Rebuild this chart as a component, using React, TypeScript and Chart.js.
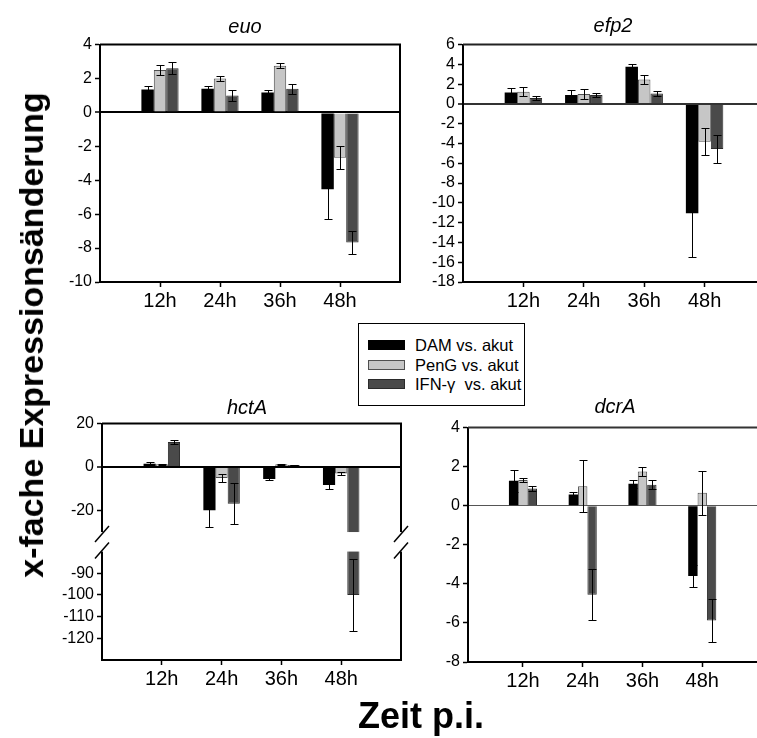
import React, { useEffect, useRef } from 'react';
import { Chart, registerables } from 'chart.js';
Chart.register(...registerables);

const FONT = "'Liberation Sans', Arial, Helvetica, sans-serif";

// ---------- data ----------
const timeLabels = ['12h', '24h', '36h', '48h'];
const seriesNames = ['DAM vs. akut', 'PenG vs. akut', 'IFN-\u03b3  vs. akut'];
const seriesFill = ['#000000', '#c6c6c6', '#4a4a4a'];
const seriesBorder = ['#000000', '#4f4f4f', '#2a2a2a'];

// euo
const euoDAM = [1.35, 1.4, 1.18, -4.53];
const euoDAMErr = [0.2, 0.15, 0.12, 1.77];
const euoPenG = [2.5, 2.0, 2.75, -2.67];
const euoPenGErr = [0.3, 0.12, 0.15, 0.68];
const euoIFN = [2.6, 1.0, 1.4, -7.67];
const euoIFNErr = [0.35, 0.33, 0.3, 0.68];
const euoRange = [-10, 4];
const euoStep = 2;

// efp2
const efp2DAM = [1.15, 0.9, 3.75, -11.05];
const efp2DAMErr = [0.5, 0.55, 0.25, 4.45];
const efp2PenG = [1.23, 1.0, 2.47, -3.82];
const efp2PenGErr = [0.45, 0.55, 0.45, 1.35];
const efp2IFN = [0.6, 0.9, 1.06, -4.55];
const efp2IFNErr = [0.25, 0.2, 0.22, 1.4];
const efp2Range = [-18, 6];
const efp2Step = 2;

// hctA (broken axis between -30 and -80)
const hctADAM = [1.5, -20, -5.6, -8.3];
const hctADAMErr = [0.9, 7.5, 0.35, 1.8];
const hctAPenG = [1.2, -5.1, 1.2, -3.0];
const hctAPenGErr = [0.3, 2.0, 0.3, 0.9];
const hctAIFN = [11.5, -16.9, 0.9, -100];
const hctAIFNErr = [0.8, 9.6, 0.2, 16.7];
const hctARange = [-130, 20];
const hctATicks = [20, 0, -20, -90, -100, -110, -120];
const hctABreak = [-30, -80]; // hidden interval

// dcrA
const dcrADAM = [1.28, 0.58, 1.12, -3.6];
const dcrADAMErr = [0.57, 0.14, 0.2, 0.55];
const dcrAPenG = [1.32, 1.0, 1.75, 0.66];
const dcrAPenGErr = [0.12, 1.33, 0.23, 1.13];
const dcrAIFN = [0.88, -4.56, 1.07, -5.88];
const dcrAIFNErr = [0.12, 1.3, 0.23, 1.1];
const dcrARange = [-8, 4];
const dcrAStep = 2;

// ---------- layout ----------
const Y_W = 70;
const PAD_T = 12;
const PAD_R = 10;
const X_H = 40;
const BREAK_GAP = 9; // axis units hidden by the break

type Spec = {
  title: string;
  values: number[][];
  errors: number[][];
  range: number[];
  step?: number;
  ticks?: number[];
  brk?: number[];
  plot: { l: number; t: number; w: number; h: number };
  xMin: number;
  xMax: number;
  catPct: number;
  yFont: number;
  zeroColor: string;
  zeroWidth: number;
  frameColor: string;
  titlePos: { x: number; y: number };
};

const panels: Spec[] = [
  {
    title: 'euo',
    values: [euoDAM, euoPenG, euoIFN],
    errors: [euoDAMErr, euoPenGErr, euoIFNErr],
    range: euoRange, step: euoStep,
    plot: { l: 100, t: 44, w: 300, h: 238 },
    xMin: 0, xMax: 5, catPct: 0.62, yFont: 16,
    zeroColor: '#000', zeroWidth: 2, frameColor: '#000',
    titlePos: { x: 245, y: 33 },
  },
  {
    title: 'efp2',
    values: [efp2DAM, efp2PenG, efp2IFN],
    errors: [efp2DAMErr, efp2PenGErr, efp2IFNErr],
    range: efp2Range, step: efp2Step,
    plot: { l: 463, t: 44, w: 302, h: 238 },
    xMin: 0, xMax: 5, catPct: 0.62, yFont: 16,
    zeroColor: '#333', zeroWidth: 2, frameColor: '#222',
    titlePos: { x: 613, y: 32 },
  },
  {
    title: 'hctA',
    values: [hctADAM, hctAPenG, hctAIFN],
    errors: [hctADAMErr, hctAPenGErr, hctAIFNErr],
    range: hctARange, ticks: hctATicks, brk: hctABreak,
    plot: { l: 102, t: 423, w: 299, h: 237 },
    xMin: 0, xMax: 5, catPct: 0.61, yFont: 16,
    zeroColor: '#000', zeroWidth: 2, frameColor: '#000',
    titlePos: { x: 247, y: 414 },
  },
  {
    title: 'dcrA',
    values: [dcrADAM, dcrAPenG, dcrAIFN],
    errors: [dcrADAMErr, dcrAPenGErr, dcrAIFNErr],
    range: dcrARange, step: dcrAStep,
    plot: { l: 468, t: 427, w: 294, h: 235 },
    xMin: 0.08, xMax: 5, catPct: 0.47, yFont: 16,
    zeroColor: '#555', zeroWidth: 1, frameColor: '#333',
    titlePos: { x: 615, y: 413 },
  },
];

function makeTransform(brk?: number[]) {
  if (!brk) return { tf: (v: number) => v, inv: (t: number) => t };
  const [up, low] = brk;
  const shift = up - low - BREAK_GAP;
  return {
    tf: (v: number) => (v >= up ? v : v + shift),
    inv: (t: number) => (t >= up ? t : t - shift),
  };
}

function buildConfig(spec: Spec): any {
  const { tf, inv } = makeTransform(spec.brk);
  const datasets = spec.values.map((vals, i) => ({
    label: seriesNames[i],
    data: vals.map((v, j) => ({ x: j + 1, y: tf(v) })),
    backgroundColor: seriesFill[i],
    borderColor: seriesBorder[i],
    borderWidth: i === 0 ? 0 : 1,
    borderSkipped: 'start',
    categoryPercentage: spec.catPct,
    barPercentage: 1,
  }));

  const decor = {
    id: 'decor',
    afterDatasetsDraw(chart: any) {
      const ctx = chart.ctx;
      const y = chart.scales.y;
      ctx.save();
      ctx.strokeStyle = '#000';
      ctx.lineWidth = 1;
      const cap = 4;
      chart.data.datasets.forEach((_: any, i: number) => {
        const meta = chart.getDatasetMeta(i);
        meta.data.forEach((bar: any, j: number) => {
          const v = spec.values[i][j];
          const e = spec.errors[i][j];
          const x = Math.round(bar.x) + 0.5;
          const y1 = Math.round(y.getPixelForValue(tf(v + e))) + 0.5;
          const y2 = Math.round(y.getPixelForValue(tf(v - e))) + 0.5;
          ctx.beginPath();
          ctx.moveTo(x, y1); ctx.lineTo(x, y2);
          ctx.moveTo(x - cap, y1); ctx.lineTo(x + cap, y1);
          ctx.moveTo(x - cap, y2); ctx.lineTo(x + cap, y2);
          ctx.stroke();
        });
      });
      ctx.restore();
    },
    afterDraw(chart: any) {
      const ctx = chart.ctx;
      const a = chart.chartArea;
      const y = chart.scales.y;
      ctx.save();
      ctx.strokeStyle = spec.frameColor;
      ctx.lineWidth = 2;
      ctx.beginPath();
      ctx.moveTo(a.left, a.top);
      ctx.lineTo(a.right, a.top);
      ctx.lineTo(a.right, a.bottom);
      ctx.stroke();
      if (spec.brk) {
        const yA = y.getPixelForValue(spec.brk[0]);
        const yB = y.getPixelForValue(tf(spec.brk[1]));
        ctx.fillStyle = '#fff';
        ctx.fillRect(a.left - 4, yA, a.right - a.left + 8, yB - yA);
        ctx.strokeStyle = '#000';
        ctx.lineWidth = 1.5;
        [a.left, a.right].forEach((x: number) => {
          [yA + 2, yB - 1].forEach((yc: number) => {
            ctx.beginPath();
            ctx.moveTo(x - 7, yc + 8);
            ctx.lineTo(x + 7, yc - 8);
            ctx.stroke();
          });
        });
      }
      ctx.restore();
    },
  };

  const yTicks: any = {
    color: '#000',
    font: { family: FONT, size: spec.yFont },
    padding: 3,
    autoSkip: false,
    callback: (val: number) => String(Math.round(inv(val))),
  };
  if (spec.step) yTicks.stepSize = spec.step;

  return {
    type: 'bar',
    data: { datasets },
    plugins: [decor],
    options: {
      responsive: false,
      maintainAspectRatio: false,
      animation: false,
      devicePixelRatio: 1,
      layout: { padding: { top: PAD_T, right: PAD_R, left: 0, bottom: 0 } },
      plugins: { legend: { display: false }, tooltip: { enabled: false }, title: { display: false } },
      scales: {
        x: {
          type: 'linear',
          min: spec.xMin,
          max: spec.xMax,
          offset: false,
          afterBuildTicks: (s: any) => { s.ticks = timeLabels.map((_, i) => ({ value: i + 1 })); },
          afterFit: (s: any) => { s.height = X_H; },
          grid: { offset: false, drawOnChartArea: false, drawTicks: true, tickLength: 5, tickColor: '#000', tickWidth: 1.5 },
          border: { display: true, color: '#000', width: 2 },
          ticks: {
            color: '#000',
            font: { family: FONT, size: 20 },
            padding: 2,
            maxRotation: 0,
            autoSkip: false,
            callback: (val: number) => timeLabels[Math.round(val) - 1] ?? '',
          },
        },
        y: {
          type: 'linear',
          min: tf(spec.range[0]),
          max: tf(spec.range[1]),
          afterBuildTicks: spec.ticks ? (s: any) => { s.ticks = spec.ticks!.map((v) => ({ value: tf(v) })); } : undefined,
          afterFit: (s: any) => { s.width = Y_W; },
          grid: {
            drawOnChartArea: true,
            drawTicks: true,
            tickLength: 5,
            tickColor: '#000',
            tickWidth: 1.5,
            color: (c: any) => (c.tick && c.tick.value === 0 ? spec.zeroColor : 'rgba(0,0,0,0)'),
            lineWidth: (c: any) => (c.tick && c.tick.value === 0 ? spec.zeroWidth : 1),
          },
          border: { display: true, color: '#000', width: 2 },
          ticks: yTicks,
        },
      },
    },
  };
}

function Panel({ spec }: { spec: Spec }) {
  const ref = useRef<HTMLCanvasElement>(null);
  useEffect(() => {
    if (!ref.current) return;
    const chart = new Chart(ref.current, buildConfig(spec));
    return () => chart.destroy();
  }, [spec]);
  const w = spec.plot.w + Y_W + PAD_R;
  const h = spec.plot.h + PAD_T + X_H;
  return (
    <canvas
      ref={ref}
      width={w}
      height={h}
      style={{ position: 'absolute', left: spec.plot.l - Y_W, top: spec.plot.t - PAD_T, width: w, height: h, display: 'block' }}
    />
  );
}

function Title({ spec }: { spec: Spec }) {
  const fs = 20;
  return (
    <div
      style={{
        position: 'absolute',
        left: spec.titlePos.x,
        top: spec.titlePos.y - 0.8465 * fs,
        transform: 'translateX(-50%)',
        fontFamily: FONT,
        fontStyle: 'italic',
        fontSize: fs,
        lineHeight: 1,
        whiteSpace: 'nowrap',
        color: '#000',
      }}
    >
      {spec.title}
    </div>
  );
}

function Legend() {
  return (
    <div
      style={{
        position: 'absolute',
        left: 358,
        top: 323,
        width: 167,
        height: 83,
        boxSizing: 'border-box',
        border: '1.5px solid #000',
        background: '#fff',
      }}
    >
      {seriesNames.map((n, i) => (
        <div key={n} style={{ position: 'absolute', left: 9, top: 13 + i * 19.5, height: 16, display: 'flex', alignItems: 'center' }}>
          <div style={{ width: 37, height: 10, boxSizing: 'border-box', background: seriesFill[i], border: `1px solid ${seriesBorder[i]}` }} />
          <div style={{ marginLeft: 10, fontFamily: FONT, fontSize: 16.5, lineHeight: '16px', whiteSpace: 'pre', color: '#000' }}>{n}</div>
        </div>
      ))}
    </div>
  );
}

export default function App() {
  return (
    <div style={{ position: 'absolute', left: 0, top: 0, width: 757, height: 738, overflow: 'hidden', background: '#fff' }}>
      {panels.map((p) => (
        <Panel key={p.title} spec={p} />
      ))}
      {panels.map((p) => (
        <Title key={'t' + p.title} spec={p} />
      ))}
      <Legend />
      <div
        style={{
          position: 'absolute',
          left: 31,
          top: 335,
          transform: 'translate(-50%, -50%) rotate(-90deg)',
          fontFamily: FONT,
          fontWeight: 'bold',
          fontSize: 34,
          lineHeight: 1,
          whiteSpace: 'nowrap',
          color: '#000',
        }}
      >
        x-fache Expressionsänderung
      </div>
      <div
        style={{
          position: 'absolute',
          left: 421,
          top: 728 - 0.8465 * 36,
          transform: 'translateX(-50%)',
          fontFamily: FONT,
          fontWeight: 'bold',
          fontSize: 36,
          lineHeight: 1,
          whiteSpace: 'nowrap',
          color: '#000',
        }}
      >
        Zeit p.i.
      </div>
    </div>
  );
}
